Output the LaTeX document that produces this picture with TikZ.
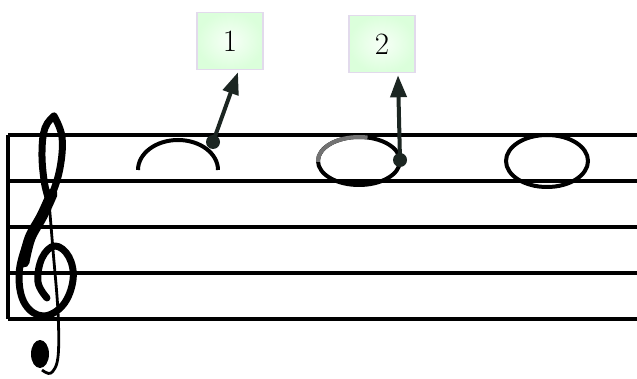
\documentclass[tikz,border=0pt]{standalone}
\usetikzlibrary{arrows.meta}
\definecolor{inkdark}{RGB}{28,38,34}
\definecolor{boxline}{RGB}{226,218,236}

\begin{document}
\begin{tikzpicture}[x=1pt,y=-1pt,
    numbox/.style={draw=boxline,line width=1.5pt,shading=radial,inner color=green!3,outer color=green!14,minimum width=66pt,minimum height=57pt,font=\fontsize{31}{36}\selectfont},
    pin/.style={circle,fill=inkdark,inner sep=0pt,minimum size=14pt},
    pointer/.style={line width=4pt,draw=inkdark,-{Triangle[length=22pt,width=16pt]}}]
    \useasboundingbox (0,0) rectangle (637,379);
    % staff
    \foreach \y in {135,181,227,273,319} {
        \draw[line width=3.5pt] (8,\y) -- (637,\y);
    }
    \draw[line width=3.5pt] (8,135) -- (8,319);
    % treble clef
    \draw[line width=7pt,line cap=round,line join=round] plot[smooth,tension=0.65] coordinates
        {(47,298) (38,282) (42,258) (55,246) (69,257) (73,280) (63,305) (43,316) (25,304) (19,277) (25,248) (38,223) (51,197) (60,168) (62,137) (54,116)};
    \draw[line width=11pt,line cap=round] plot[smooth,tension=0.6] coordinates
        {(24,262) (30,238) (42,216) (52,194)};
    \draw[line width=7pt,line cap=round] plot[smooth,tension=0.7] coordinates
        {(54,116) (45,128) (42,152) (44,180) (48,197)};
    \draw[line width=2.8pt] plot[smooth,tension=0.6] coordinates
        {(48,190) (53,250) (58,312) (58,357) (51,373) (42,370)};
    \fill (40,354) ellipse (9 and 14);
    % notes
    \draw[line width=4pt] (138,170) arc (180:360:40 and 30);
    \draw[line width=4pt] (359,161) ellipse (41 and 24);
    \draw[line width=4pt,black!55] (359,161) ++(178:41 and 24) arc (178:282:41 and 24);
    \draw[line width=4pt] (547,161) ellipse (41 and 26);
    \draw[line width=1.5pt] (506,157) -- (506,165) (588,157) -- (588,165);
    % labels
    \node[pin] (p1) at (213,142) {};
    \node[pin] (p2) at (400,160) {};
    \node[numbox] (n1) at (230,41) {1};
    \node[numbox] (n2) at (382,44) {2};
    \draw[pointer] (p1.center) -- ([xshift=8pt,yshift=-2pt]n1.south);
    \draw[pointer] (p2.center) -- ([xshift=16pt,yshift=-2pt]n2.south);
\end{tikzpicture}
\end{document}
